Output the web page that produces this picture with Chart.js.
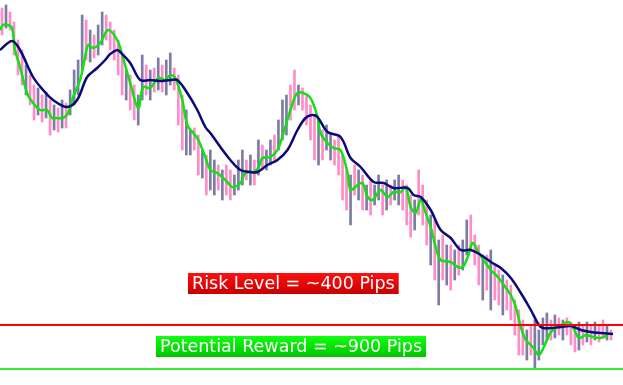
<!DOCTYPE html>
<html>
<head>
<meta charset="utf-8">
<title>Riesgo vs recompensa</title>
<script src="https://cdn.jsdelivr.net/npm/chart.js@4/dist/chart.umd.min.js"></script>
<style>
body{margin:0;background:#fff;}
canvas{display:block;}
</style>
</head>
<body>
<canvas id="grafico" width="623" height="385"></canvas>
<script>
//datos (precio por barra)
const maximos=[
1.392,1.395,1.388,1.378,1.360,1.350,1.335,1.325,1.315,1.312,
1.305,1.308,1.300,1.295,1.292,1.300,1.297,1.310,1.330,1.340,
1.385,1.380,1.370,1.365,1.375,1.388,1.385,1.378,1.370,1.360,
1.345,1.330,1.325,1.315,1.305,1.345,1.335,1.330,1.332,1.342,
1.335,1.340,1.347,1.332,1.325,1.305,1.290,1.270,1.272,1.265,
1.250,1.245,1.250,1.240,1.235,1.230,1.235,1.230,1.225,1.240,
1.250,1.240,1.245,1.240,1.260,1.255,1.250,1.260,1.265,1.280,
1.300,1.305,1.315,1.330,1.315,1.312,1.305,1.295,1.285,1.280,
1.270,1.275,1.265,1.260,1.265,1.245,1.230,1.225,1.235,1.230,
1.225,1.215,1.220,1.215,1.225,1.215,1.220,1.215,1.220,1.225,
1.220,1.215,1.205,1.200,1.230,1.215,1.200,1.185,1.180,1.160,
1.165,1.155,1.155,1.150,1.155,1.160,1.180,1.185,1.165,1.155,
1.145,1.145,1.150,1.135,1.130,1.125,1.120,1.115,1.100,1.090,
1.080,1.070,1.075,1.080,1.070,1.082,1.087,1.080,1.085,1.082,
1.080,1.082,1.078,1.075,1.078,1.075,1.078,1.075,1.078,1.075,
1.080,1.075,1.070];

const minimos=[
1.365,1.372,1.370,1.345,1.325,1.315,1.305,1.295,1.280,1.285,
1.278,1.282,1.265,1.270,1.268,1.272,1.272,1.285,1.295,1.305,
1.330,1.340,1.338,1.342,1.345,1.355,1.360,1.350,1.340,1.325,
1.305,1.300,1.290,1.280,1.275,1.300,1.305,1.300,1.308,1.310,
1.308,1.305,1.315,1.310,1.275,1.250,1.245,1.245,1.250,1.225,
1.222,1.205,1.210,1.205,1.210,1.200,1.205,1.200,1.205,1.210,
1.215,1.220,1.215,1.215,1.225,1.230,1.230,1.235,1.240,1.250,
1.260,1.265,1.280,1.290,1.295,1.290,1.275,1.260,1.240,1.235,
1.240,1.250,1.240,1.235,1.225,1.200,1.190,1.175,1.205,1.200,
1.190,1.190,1.185,1.195,1.200,1.185,1.190,1.195,1.200,1.195,
1.190,1.175,1.163,1.170,1.185,1.175,1.155,1.135,1.120,1.095,
1.120,1.115,1.110,1.120,1.125,1.130,1.145,1.150,1.135,1.115,
1.100,1.110,1.090,1.100,1.095,1.085,1.090,1.080,1.065,1.045,
1.045,1.040,1.045,1.032,1.040,1.055,1.060,1.060,1.062,1.065,
1.060,1.065,1.055,1.048,1.050,1.055,1.058,1.055,1.060,1.058,
1.062,1.060,1.060];

// u = barra alcista (gris), d = barra bajista (rosa)
const direccion=(
"dudddduddu"+"dudududuuu"+"ududuudddd"+"dudduududu"+"duuddduudd"+
"uduududduu"+"udududuudu"+"uudduddddu"+"duuddddudu"+"duduududuu"+
"dddudddudu"+"dududuuddd"+"ududdudddd"+"duduuuudud"+"udddududud"+"dud").split('');

//media rapida (verde), x = indice de barra
const rapidaX=[-0.5,0.25,1.5,2.5,3.25,4.5,6.25,7.75,9.5,11.25,
12.5,13.75,15.25,16.5,17.75,19.5,20.75,21.5,22.75,24.5,
26.5,28.75,30,32,34,35.25,37,39,40.75,42,
43.25,45,46.25,47.75,49,50.75,52,53.75,56.25,57.5,
59.5,60.75,62.75,64,65,67,68.75,70.25,72,73.75,
76.25,77.5,78.75,79.5,81.25,82.75,84.5,86.25,87,88.75,
90,91.25,92.5,94.5,96.25,97.75,99.5,100.75,102,103.25,
104.5,105.75,107,108.25,109.5,112,113.75,115,116.25,117.5,
119,120.75,122,123.75,125.25,127,128.25,129.5,130.75,132.5,
134,135.25,137,138.75,141.25,142.5,144,145.75,147.5,149.5,
151.25];
const rapidaY=[1.370,1.375,1.375,1.372,1.350,1.333,1.307,1.297,1.290,1.290,
1.282,1.282,1.282,1.287,1.303,1.320,1.343,1.355,1.352,1.357,
1.370,1.360,1.345,1.317,1.292,1.313,1.312,1.322,1.320,1.325,
1.322,1.300,1.275,1.267,1.260,1.243,1.230,1.227,1.218,1.213,
1.217,1.227,1.228,1.232,1.242,1.243,1.250,1.267,1.290,1.307,
1.305,1.298,1.283,1.267,1.257,1.252,1.250,1.227,1.210,1.215,
1.217,1.203,1.200,1.210,1.203,1.208,1.208,1.213,1.193,1.187,
1.200,1.187,1.173,1.153,1.140,1.138,1.133,1.133,1.143,1.157,
1.147,1.137,1.130,1.123,1.115,1.105,1.093,1.073,1.060,1.053,
1.045,1.053,1.068,1.073,1.078,1.073,1.062,1.065,1.063,1.062,
1.065];

//media lenta (azul marino)
const lentaX=[-0.5,2.5,4.5,7.75,10.25,12.75,16.25,18.75,21.25,23.75,
25.75,27,28.75,29.5,32,34.5,37,39.5,42,43.75,
46.25,48.75,50.75,52,54.5,57,59.5,62,63.75,66.25,
68.75,71.25,73.75,75.75,77.5,78.75,81.25,84.5,87,89.5,
92.75,95.25,97.75,101.25,102.75,104.5,107,109.5,112,114.5,
117,119.5,122,124.5,127,129.5,132,134,135,137,
139.5,142,144.5,147,149.5,152.5];
const lentaY=[1.350,1.359,1.350,1.323,1.310,1.300,1.293,1.300,1.323,1.332,
1.340,1.346,1.350,1.348,1.337,1.320,1.320,1.319,1.320,1.320,
1.307,1.290,1.273,1.267,1.253,1.240,1.230,1.228,1.228,1.235,
1.240,1.250,1.270,1.282,1.285,1.283,1.268,1.263,1.242,1.233,
1.218,1.217,1.212,1.212,1.205,1.203,1.190,1.170,1.162,1.150,
1.150,1.145,1.138,1.132,1.122,1.107,1.090,1.075,1.072,1.072,
1.073,1.074,1.070,1.068,1.067,1.066];

//niveles horizontales
const nivelRiesgo=1.075;
const nivelObjetivo=1.031;
const textoRiesgo='Risk Level = ~400 Pips';
const textoObjetivo='Potential Reward = ~900 Pips';

function puntos(xs,ys)
{
    return xs.map((x,i)=>({x:x,y:ys[i]}));
}

function lineaHorizontal(valor,color,orden)
{
    return {
        type:'line',
        data:[{x:-0.5,y:valor},{x:155,y:valor}],
        borderColor:color,
        borderWidth:2,
        pointRadius:0,
        order:orden
    };
}

//caja con degradado y texto blanco
function dibujarEtiqueta(ctx,texto,cx,cy,colores)
{
    ctx.save();
    ctx.font='17.5px "DejaVu Sans"';
    const ancho=ctx.measureText(texto).width+8;
    const alto=21;
    const izq=Math.round(cx-ancho/2);
    const arriba=Math.round(cy-alto/2);
    const grad=ctx.createLinearGradient(0,arriba,0,arriba+alto);
    grad.addColorStop(0,colores[0]);
    grad.addColorStop(1,colores[1]);
    ctx.fillStyle=grad;
    ctx.fillRect(izq,arriba,ancho,alto);
    ctx.fillStyle='#ffffff';
    ctx.textAlign='center';
    ctx.textBaseline='middle';
    ctx.fillText(texto,izq+ancho/2,arriba+alto/2+1);
    ctx.restore();
}

const pluginEtiquetas={
    id:'etiquetas',
    afterDatasetsDraw(chart)
    {
        const ctx=chart.ctx;
        const x=chart.scales.x;
        const y=chart.scales.y;
        dibujarEtiqueta(ctx,textoRiesgo,x.getPixelForValue(72.75),y.getPixelForValue(1.1165),['#ff1010','#c80000']);
        dibujarEtiqueta(ctx,textoObjetivo,x.getPixelForValue(72.2),y.getPixelForValue(1.0535),['#10ff10','#00c400']);
    }
};

document.addEventListener("DOMContentLoaded",function()
{
    const ctx=document.getElementById('grafico');

    new Chart(ctx,{
        type:'bar',
        data:{
            datasets:[
                {
                    type:'bar',
                    data:maximos.map((h,i)=>({x:i,y:[minimos[i],h]})),
                    backgroundColor:direccion.map(d=>d==='u'?'#7c7ca4':'#ff8cc8'),
                    barThickness:2,
                    grouped:false,
                    order:5
                },
                {
                    type:'line',
                    data:puntos(rapidaX,rapidaY),
                    borderColor:'#11e011',
                    borderWidth:2.5,
                    pointRadius:0,
                    tension:0.35,
                    order:3
                },
                {
                    type:'line',
                    data:puntos(lentaX,lentaY),
                    borderColor:'#0a0a7a',
                    borderWidth:2.5,
                    pointRadius:0,
                    tension:0.35,
                    order:2
                },
                lineaHorizontal(nivelRiesgo,'#ff0000',1),
                lineaHorizontal(nivelObjetivo,'#33ee33',1)
            ]
        },
        options:{
            responsive:false,
            animation:false,
            devicePixelRatio:1,
            layout:{padding:0},
            plugins:{
                legend:{display:false},
                tooltip:{enabled:false}
            },
            scales:{
                x:{type:'linear',min:-0.5,max:155,offset:false,display:false},
                y:{min:1.015,max:1.400,display:false}
            }
        },
        plugins:[pluginEtiquetas]
    });
});
</script>
</body>
</html>
